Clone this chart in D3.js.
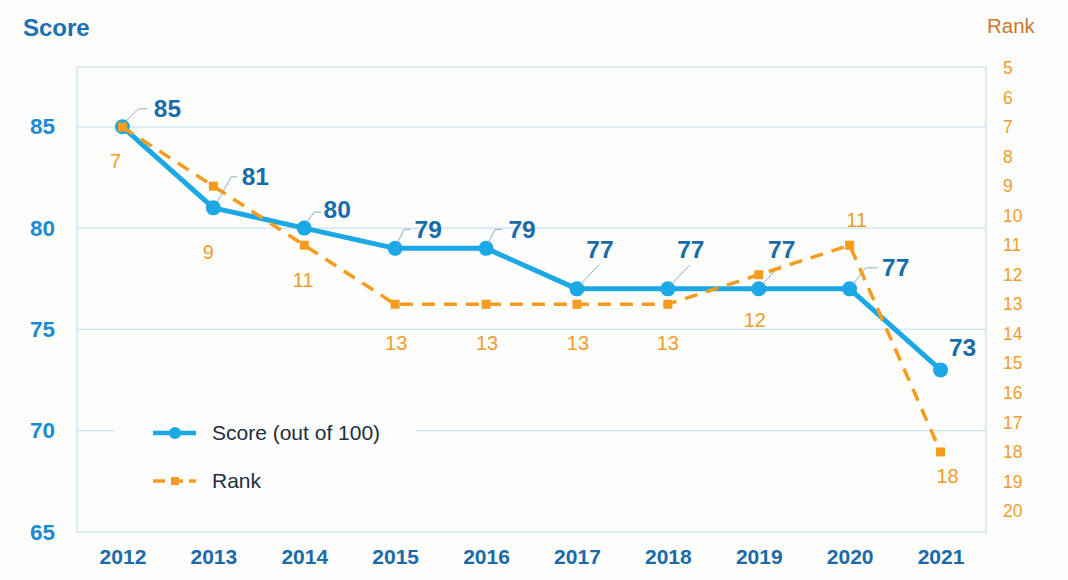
<!DOCTYPE html>
<html>
<head>
<meta charset="utf-8">
<script src="https://cdn.jsdelivr.net/npm/d3@7/dist/d3.min.js"></script>
<style>
  html, body { margin: 0; padding: 0; background: #fdfdfb; }
  svg { display: block; font-family: "Liberation Sans", Arial, sans-serif; }
</style>
</head>
<body>
<svg id="chart" width="1068" height="580"></svg>
<script>
// ---- data ----
const years = ["2012","2013","2014","2015","2016","2017","2018","2019","2020","2021"];
const scores = [85, 81, 80, 79, 79, 77, 77, 77, 77, 73];
const ranks = [7, 9, 11, 13, 13, 13, 13, 12, 11, 18];
const scoreTicks = [65, 70, 75, 80, 85];
const rankTicks = [5,6,7,8,9,10,11,12,13,14,15,16,17,18,19,20];
const seriesNames = ["Score (out of 100)", "Rank"];

// ---- layout ----
const W = 1068, H = 580;
const plot = { left: 77, right: 986, top: 67, bottom: 532 };
const C = {
  grid: "#c9e2f3",
  score: "#1ba8e5",
  scoreLabel: "#176ca9",
  leftTick: "#1a8bd0",
  xTick: "#1a6aaa",
  rank: "#f59b1e",
  rankLabel: "#ee9d2c",
  rankTitle: "#cf772c",
  title: "#1a70b2",
  leader: "#86afc9",
  legendText: "#1f2d3d"
};

const svg = d3.select("#chart");
svg.append("rect").attr("width", W).attr("height", H).attr("fill", "#fdfdfb");

const x = d3.scalePoint().domain(years).range([plot.left, plot.right]).padding(0.5);
const yS = d3.scaleLinear().domain([65, 88]).range([plot.bottom, plot.top - 1]);
const yR = d3.scaleLinear().domain([5, 20]).range([68, 511]);

// gridlines
svg.append("g").selectAll("line").data(scoreTicks.filter(d => d > 65)).join("line")
  .attr("x1", plot.left).attr("x2", plot.right)
  .attr("y1", d => yS(d)).attr("y2", d => yS(d))
  .attr("stroke", C.grid).attr("stroke-width", 1.3);

// frame
svg.append("rect")
  .attr("x", plot.left).attr("y", plot.top)
  .attr("width", plot.right - plot.left).attr("height", plot.bottom - plot.top)
  .attr("fill", "none").attr("stroke", C.grid).attr("stroke-width", 1.3);

// left axis
const leftAxis = d3.axisLeft(yS).tickValues(scoreTicks).tickSize(0).tickPadding(22);
const gL = svg.append("g").attr("transform", `translate(${plot.left},0)`).call(leftAxis);
gL.select(".domain").remove();
gL.selectAll("text").attr("fill", C.leftTick).attr("font-size", 22.5).attr("font-weight", "bold")
  .attr("font-family", "Liberation Sans, Arial, sans-serif");

// right axis
const rightAxis = d3.axisRight(yR).tickValues(rankTicks).tickSize(0).tickPadding(17);
const gR = svg.append("g").attr("transform", `translate(${plot.right},0)`).call(rightAxis);
gR.select(".domain").remove();
gR.selectAll("text").attr("fill", C.rankLabel).attr("font-size", 17.5)
  .attr("font-family", "Liberation Sans, Arial, sans-serif");

// bottom axis
const bottomAxis = d3.axisBottom(x).tickSize(0).tickPadding(17);
const gB = svg.append("g").attr("transform", `translate(0,${plot.bottom})`).call(bottomAxis);
gB.select(".domain").remove();
gB.selectAll("text").attr("fill", C.xTick).attr("font-size", 21).attr("font-weight", "bold")
  .attr("font-family", "Liberation Sans, Arial, sans-serif");

// titles
svg.append("text").attr("x", 23).attr("y", 36).text("Score")
  .attr("fill", C.title).attr("font-size", 24).attr("font-weight", "bold");
svg.append("text").attr("x", 987).attr("y", 33).text("Rank")
  .attr("fill", C.rankTitle).attr("font-size", 20.5);

// legend background
svg.append("rect").attr("x", 115).attr("y", 414).attr("width", 300).attr("height", 90)
  .attr("fill", "#fefefe");

const idx = years.map((d, i) => i);

// score line
svg.append("path").datum(idx)
  .attr("d", d3.line().x(i => x(years[i])).y(i => yS(scores[i])))
  .attr("fill", "none").attr("stroke", C.score).attr("stroke-width", 5)
  .attr("stroke-linejoin", "round");
svg.append("g").selectAll("circle").data(idx).join("circle")
  .attr("cx", i => x(years[i])).attr("cy", i => yS(scores[i])).attr("r", 7.5)
  .attr("fill", C.score);

// score labels and leader lines (offsets relative to the point)
const sLab = [
  { dx: 45, dy: -10, lead: [[3,-5],[16,-18],[25,-18]] },
  { dx: 42, dy: -23, lead: [[4,-6],[18,-31],[24,-31]] },
  { dx: 33, dy: -10, lead: [[2,-5],[10,-16],[17,-16]] },
  { dx: 33, dy: -10, lead: [[2,-5],[9,-19],[16,-19]] },
  { dx: 36, dy: -10, lead: [[2,-5],[9,-19],[16,-19]] },
  { dx: 23, dy: -31, lead: [[3,-4],[22,-24]] },
  { dx: 23, dy: -31, lead: [[3,-4],[22,-24]] },
  { dx: 23, dy: -31, lead: [[3,-4],[22,-24]] },
  { dx: 46, dy: -13, lead: [[3,-4],[16,-21],[28,-21]] },
  { dx: 22, dy: -14, lead: null }
];
svg.append("g").selectAll("path").data(idx.filter(i => sLab[i].lead)).join("path")
  .attr("d", i => {
    const px = x(years[i]), py = yS(scores[i]);
    return d3.line()(sLab[i].lead.map(p => [px + p[0], py + p[1]]));
  })
  .attr("fill", "none").attr("stroke", C.leader).attr("stroke-width", 1);
svg.append("g").selectAll("text").data(idx).join("text")
  .attr("x", i => x(years[i]) + sLab[i].dx)
  .attr("y", i => yS(scores[i]) + sLab[i].dy)
  .attr("text-anchor", "middle")
  .attr("fill", C.scoreLabel).attr("font-size", 24.5).attr("font-weight", "bold")
  .text(i => scores[i]);

// rank line (drawn on top)
svg.append("path").datum(idx)
  .attr("d", d3.line().x(i => x(years[i])).y(i => yR(ranks[i])))
  .attr("fill", "none").attr("stroke", C.rank).attr("stroke-width", 3.5)
  .attr("stroke-dasharray", "13,9");
svg.append("g").selectAll("rect").data(idx).join("rect")
  .attr("x", i => x(years[i]) - 4.5).attr("y", i => yR(ranks[i]) - 4.5)
  .attr("width", 9).attr("height", 9).attr("fill", C.rank);

// rank labels
const rLab = [
  [-7, 41], [-5, 73], [-1, 42], [1, 46], [1, 46], [1, 46], [0, 46], [-4, 52], [7, -18], [7, 31]
];
svg.append("g").selectAll("text").data(idx).join("text")
  .attr("x", i => x(years[i]) + rLab[i][0])
  .attr("y", i => yR(ranks[i]) + rLab[i][1])
  .attr("text-anchor", "middle")
  .attr("fill", C.rankLabel).attr("font-size", 20)
  .text(i => ranks[i]);

// legend
const lg = svg.append("g");
lg.append("line").attr("x1", 153).attr("x2", 196).attr("y1", 433).attr("y2", 433)
  .attr("stroke", C.score).attr("stroke-width", 4.5);
lg.append("circle").attr("cx", 175).attr("cy", 433).attr("r", 6).attr("fill", C.score);
lg.append("text").attr("x", 212).attr("y", 440).text(seriesNames[0])
  .attr("fill", C.legendText).attr("font-size", 21);
lg.append("line").attr("x1", 153).attr("x2", 196).attr("y1", 481).attr("y2", 481)
  .attr("stroke", C.rank).attr("stroke-width", 3.5).attr("stroke-dasharray", "12,6");
lg.append("rect").attr("x", 171).attr("y", 477).attr("width", 8).attr("height", 8).attr("fill", C.rank);
lg.append("text").attr("x", 212).attr("y", 488).text(seriesNames[1])
  .attr("fill", C.legendText).attr("font-size", 21);
</script>
</body>
</html>
